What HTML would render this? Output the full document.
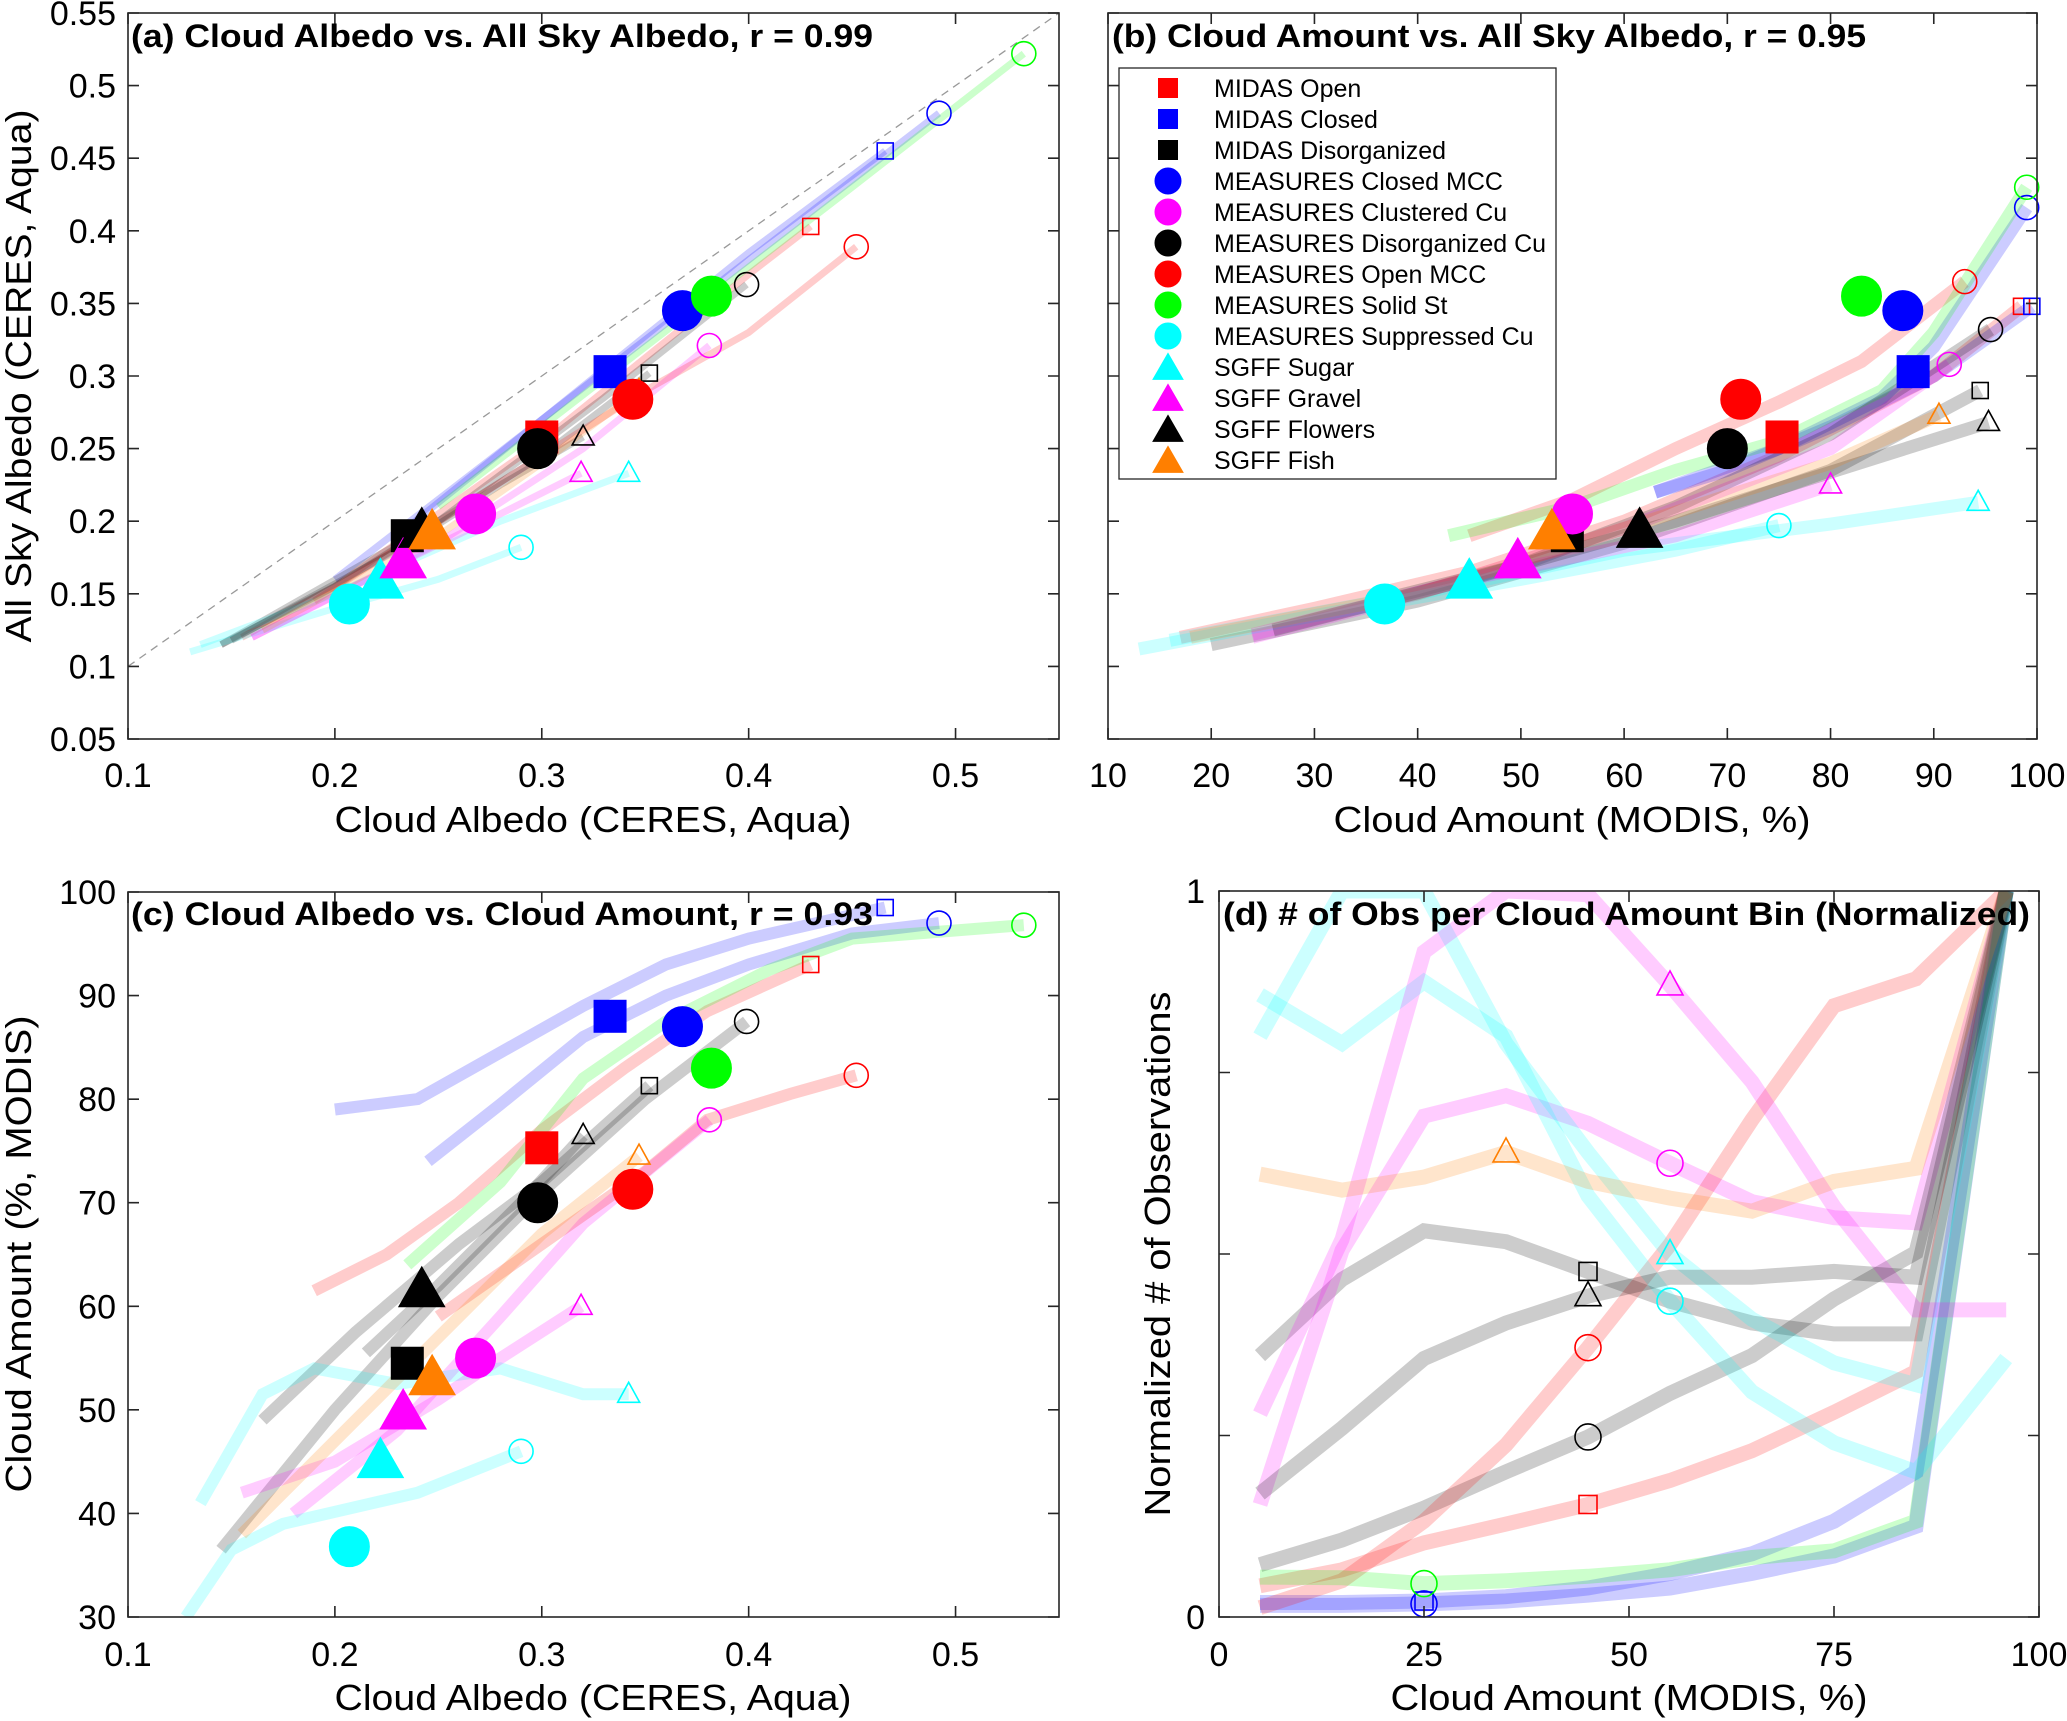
<!DOCTYPE html>
<html><head><meta charset="utf-8"><title>Cloud albedo figure</title>
<style>
html,body{margin:0;padding:0;background:#fff;}
svg{display:block;font-family:"Liberation Sans",Arial,sans-serif;}
</style></head>
<body>
<svg id="fig" xmlns="http://www.w3.org/2000/svg" width="2067" height="1721" viewBox="0 0 2067 1721">
<rect x="0" y="0" width="2067" height="1721" fill="#fff"/>
</svg>
<script>
const seriesNames = ["MIDAS Open","MIDAS Closed","MIDAS Disorganized","MEASURES Closed MCC","MEASURES Clustered Cu","MEASURES Disorganized Cu","MEASURES Open MCC","MEASURES Solid St","MEASURES Suppressed Cu","SGFF Sugar","SGFF Gravel","SGFF Flowers","SGFF Fish"];
const seriesColors = ["#ff0000","#0000ff","#000000","#0000ff","#ff00ff","#000000","#ff0000","#00ff00","#00ffff","#00ffff","#ff00ff","#000000","#ff7f00"];
const seriesShapes = ["square","square","square","circle","circle","circle","circle","circle","circle","triangle","triangle","triangle","triangle"];

const meanCloudAlbedo = [0.30,0.333,0.235,0.368,0.268,0.298,0.344,0.382,0.207,0.222,0.233,0.242,0.247];
const meanAllSkyAlbedo = [0.258,0.303,0.19,0.345,0.205,0.25,0.284,0.355,0.143,0.158,0.172,0.193,0.192];
const meanCloudAmount = [75.3,88,54.5,87,55,70,71.3,83,36.8,45,49.7,61.5,53];

const aCloudAlbedo = [
[0.155,0.2,0.3,0.4,0.43],[0.2,0.3,0.4,0.466],[0.145,0.2,0.3,0.352],[0.23,0.3,0.4,0.492],
[0.16,0.25,0.32,0.381],[0.145,0.25,0.33,0.399],[0.19,0.3,0.35,0.4,0.452],[0.25,0.35,0.45,0.533],
[0.13,0.2,0.25,0.29],[0.135,0.2,0.28,0.342],[0.16,0.23,0.28,0.319],[0.15,0.23,0.28,0.32],[0.165,0.25,0.3,0.347]];
const aAllSkyAlbedo = [
[0.12,0.155,0.255,0.37,0.403],[0.16,0.27,0.385,0.455],[0.115,0.155,0.245,0.302],[0.19,0.27,0.38,0.481],
[0.12,0.185,0.25,0.321],[0.115,0.2,0.285,0.363],[0.145,0.245,0.29,0.33,0.389],[0.21,0.32,0.43,0.522],
[0.11,0.14,0.16,0.182],[0.115,0.15,0.2,0.233],[0.12,0.17,0.205,0.233],[0.118,0.18,0.225,0.258],[0.125,0.19,0.24,0.29]];

const bCloudAmount = [
[17,30,45,60,75,90,98.5],[63,70,80,90,99.5],[20,40,60,80,94.5],[63,75,85,90,99],
[24,40,60,80,91.5],[36,50,65,80,95.5],[45,55,65,75,83,93],[43,55,65,75,85,90,99],
[13,30,50,65,75],[16,40,60,80,94.3],[24,45,65,80],[26,45,65,85,95.3],[18,40,60,80,90.5]];
const bAllSkyAlbedo = [
[0.12,0.14,0.165,0.2,0.245,0.3,0.348],[0.22,0.235,0.265,0.3,0.348],[0.115,0.145,0.185,0.235,0.29],[0.22,0.25,0.285,0.32,0.416],
[0.12,0.15,0.195,0.25,0.308],[0.145,0.17,0.21,0.26,0.332],[0.19,0.215,0.25,0.282,0.31,0.365],[0.19,0.21,0.235,0.255,0.29,0.33,0.43],
[0.112,0.135,0.16,0.18,0.197],[0.118,0.15,0.18,0.198,0.213],[0.122,0.16,0.19,0.225],[0.125,0.16,0.2,0.245,0.268],[0.12,0.15,0.195,0.24,0.273]];

const cCloudAlbedo = [
[0.19,0.225,0.26,0.3,0.34,0.38,0.43],[0.2,0.24,0.28,0.32,0.36,0.4,0.466],[0.165,0.21,0.26,0.3,0.352],[0.245,0.28,0.32,0.36,0.4,0.45,0.492],
[0.18,0.23,0.28,0.32,0.381],[0.145,0.2,0.25,0.3,0.35,0.399],[0.25,0.3,0.35,0.38,0.42,0.452],[0.235,0.28,0.32,0.36,0.41,0.45,0.533],
[0.128,0.15,0.175,0.24,0.29],[0.135,0.165,0.19,0.23,0.28,0.32,0.342],[0.155,0.2,0.25,0.28,0.319],[0.215,0.25,0.29,0.32],[0.155,0.2,0.25,0.3,0.347]];
const cCloudAmount = [
[61.5,65,70,77,83,88.5,93],[79,80,84.5,89,93,95.5,98.5],[49,57.5,66,72,81.3],[74,79.5,86,90,93,96,97],
[40,48,59,68,78],[36.5,50,61,71,80,87.5],[59,66,73,78,80.5,82.3],[64,72,82,87.5,92.5,95.5,96.8],
[30,36.5,39,42,46],[41,51.5,54,52.5,54,51.5,51.5],[42,45,51,55,60],[55.5,62,70,76.5],[38,47,57,67,74.5]];

const dBins = [5,15,25,35,45,55,65,75,85,96];
const dFraction = [
[0.043,0.065,0.102,0.128,0.155,0.188,0.229,0.282,0.338,1],
[0.02,0.02,0.022,0.028,0.04,0.06,0.087,0.132,0.2,1],
[0.36,0.465,0.532,0.517,0.476,0.435,0.405,0.39,0.39,1],
[0.016,0.016,0.018,0.022,0.03,0.04,0.06,0.084,0.125,1],
[0.155,0.505,0.69,0.718,0.68,0.625,0.572,0.55,0.543,1],
[0.072,0.106,0.15,0.2,0.248,0.308,0.36,0.438,0.502,1],
[0.013,0.05,0.132,0.237,0.371,0.513,0.685,0.842,0.879,1],
[0.055,0.054,0.046,0.05,0.056,0.065,0.082,0.091,0.132,1],
[0.857,0.79,0.875,0.8,0.58,0.435,0.31,0.24,0.2,0.356],
[0.8,1.0,1.0,0.79,0.64,0.5,0.41,0.35,0.32,1],
[0.28,0.52,0.916,1.0,0.995,0.87,0.737,0.565,0.423,0.423],
[0.17,0.26,0.356,0.405,0.442,0.468,0.468,0.476,0.468,1],
[0.61,0.588,0.606,0.64,0.6,0.577,0.559,0.6,0.618,1]];
const dMarkerBin = [4,2,4,2,5,4,4,2,5,5,5,4,3];

const NS = "http://www.w3.org/2000/svg";
const svg = document.getElementById("fig");

const PA = {px0:128,px1:1059,py0:739,py1:13,xmin:0.1,xmax:0.55,ymin:0.05,ymax:0.55,name:"panel-a"};
const PB = {px0:1108,px1:2037,py0:739,py1:13,xmin:10,xmax:100,ymin:0.05,ymax:0.55,name:"panel-b"};
const PC = {px0:128,px1:1059,py0:1617,py1:892,xmin:0.1,xmax:0.55,ymin:30,ymax:100,name:"panel-c"};
const PD = {px0:1219,px1:2039,py0:1617,py1:891,xmin:0,xmax:100,ymin:0,ymax:1,name:"panel-d"};

function sx(p,v){return p.px0+(v-p.xmin)/(p.xmax-p.xmin)*(p.px1-p.px0);}
function sy(p,v){return p.py0-(v-p.ymin)/(p.ymax-p.ymin)*(p.py0-p.py1);}
function el(tag,parent){const e=document.createElementNS(NS,tag);parent.appendChild(e);return e;}

function addText(parent,str,x,y,size,anchor,weight,target,rot){
  const t=el("text",parent);
  t.setAttribute("x",x);t.setAttribute("y",y);
  t.setAttribute("font-size",size);t.setAttribute("text-anchor",anchor);
  if(weight)t.setAttribute("font-weight",weight);
  t.setAttribute("fill","#000");
  if(rot)t.setAttribute("transform","rotate(-90 "+x+" "+y+")");
  t.textContent=str;
  if(target){t.setAttribute("textLength",target);t.setAttribute("lengthAdjust","spacingAndGlyphs");}
  return t;
}

function marker(parent,shape,cx,cy,w,h,color,filled){
  let m;
  if(shape==="square"){m=el("rect",parent);m.setAttribute("x",cx-w/2);m.setAttribute("y",cy-w/2);m.setAttribute("width",w);m.setAttribute("height",w);}
  else if(shape==="circle"){m=el("ellipse",parent);m.setAttribute("cx",cx);m.setAttribute("cy",cy);m.setAttribute("rx",w/2);m.setAttribute("ry",w/2);}
  else{m=el("polygon",parent);m.setAttribute("points",cx+","+(cy-h*0.6)+" "+(cx-w/2)+","+(cy+h*0.4)+" "+(cx+w/2)+","+(cy+h*0.4));}
  m.setAttribute("fill",filled?color:"none");
  m.setAttribute("stroke",color);
  m.setAttribute("stroke-width",filled?1:1.6);
  return m;
}

function axes(p,xt,xl,yt,yl,xlabY,ylabX,ylabRight){
  const g=el("g",svg);
  
  
  const box=el("rect",g);
  
  
  box.setAttribute("x",p.px0);box.setAttribute("y",p.py1);
  box.setAttribute("width",p.px1-p.px0);box.setAttribute("height",p.py0-p.py1);
  box.setAttribute("fill","none");box.setAttribute("stroke","#262626");box.setAttribute("stroke-width",1.6);
  xt.forEach((v,i)=>{
    const x=sx(p,v);
    const t=el("path",g);
    
    
    t.setAttribute("d","M"+x+" "+p.py0+"v-11M"+x+" "+p.py1+"v11");
    t.setAttribute("stroke","#262626");t.setAttribute("stroke-width",1.6);
    if(xl[i]!==""){const tl=addText(g,xl[i],x,xlabY,34,"middle");
      
      }
  });
  yt.forEach((v,i)=>{
    const y=sy(p,v);
    const t=el("path",g);
    
    
    t.setAttribute("d","M"+p.px0+" "+y+"h11M"+p.px1+" "+y+"h-11");
    t.setAttribute("stroke","#262626");t.setAttribute("stroke-width",1.6);
    if(yl && yl[i]!==""){const tl=addText(g,yl[i],ylabRight,y+12,34,"end");
      
      }
  });
  return g;
}

function clip(p){
  const cp=el("clipPath",svg);cp.setAttribute("id","clip-"+p.name);
  const r=el("rect",cp);r.setAttribute("x",p.px0);r.setAttribute("y",p.py1);
  r.setAttribute("width",p.px1-p.px0);r.setAttribute("height",p.py0-p.py1);
}

function bands(p,xs,ys,width){
  const g=el("g",svg);
  
  
  g.setAttribute("clip-path","url(#clip-"+p.name+")");
  xs.forEach((arr,i)=>{
    const pts=arr.map((v,j)=>sx(p,v).toFixed(1)+","+sy(p,ys[i][j]).toFixed(1)).join(" ");
    const l=el("polyline",g);
    
    
    l.setAttribute("points",pts);
    l.setAttribute("fill","none");l.setAttribute("stroke",seriesColors[i]);
    l.setAttribute("stroke-opacity",0.2);l.setAttribute("stroke-width",width);
    l.setAttribute("stroke-linejoin","miter");
  });
  return g;
}

function endMarkers(p,xs,ys){
  const g=el("g",svg);
  
  
  xs.forEach((arr,i)=>{
    const n=arr.length-1;
    const m=marker(g,seriesShapes[i],sx(p,arr[n]),sy(p,ys[i][n]),seriesShapes[i]==="square"?16:(seriesShapes[i]==="circle"?24:22),20,seriesColors[i],false);
    
    
  });
}

function meanMarkers(p,mx,my){
  const g=el("g",svg);
  
  
  mx.forEach((v,i)=>{
    const s=seriesShapes[i];
    const m=marker(g,s,sx(p,v),sy(p,my[i]),s==="square"?32:(s==="circle"?40:46),40,seriesColors[i],true);
    
    
  });
}

[PA,PB,PC,PD].forEach(clip);

const diag=el("line",svg);


diag.setAttribute("x1",sx(PA,0.1));diag.setAttribute("y1",sy(PA,0.1));
diag.setAttribute("x2",sx(PA,0.55));diag.setAttribute("y2",sy(PA,0.55));
diag.setAttribute("stroke","#999");diag.setAttribute("stroke-width",1.3);diag.setAttribute("stroke-dasharray","8,6");

bands(PA,aCloudAlbedo,aAllSkyAlbedo,7);
endMarkers(PA,aCloudAlbedo,aAllSkyAlbedo);
meanMarkers(PA,meanCloudAlbedo,meanAllSkyAlbedo);
bands(PB,bCloudAmount,bAllSkyAlbedo,13);
endMarkers(PB,bCloudAmount,bAllSkyAlbedo);
meanMarkers(PB,meanCloudAmount,meanAllSkyAlbedo);
bands(PC,cCloudAlbedo,cCloudAmount,12);
endMarkers(PC,cCloudAlbedo,cCloudAmount);
meanMarkers(PC,meanCloudAlbedo,meanCloudAmount);
const dX = dFraction.map(()=>dBins);
bands(PD,dX,dFraction,15);
const gd=el("g",svg);


dFraction.forEach((arr,i)=>{
  const b=dMarkerBin[i];
  const s=seriesShapes[i];
  const m=marker(gd,s,sx(PD,dBins[b]),sy(PD,arr[b]),s==="square"?18:(s==="circle"?26:26),24,seriesColors[i],false);
  
  
});

const albTicks=[0.1,0.2,0.3,0.4,0.5];
const albLabels=["0.1","0.2","0.3","0.4","0.5"];
const asaTicks=[0.05,0.1,0.15,0.2,0.25,0.3,0.35,0.4,0.45,0.5,0.55];
const asaLabels=["0.05","0.1","0.15","0.2","0.25","0.3","0.35","0.4","0.45","0.5","0.55"];
axes(PA,albTicks,albLabels,asaTicks,asaLabels,787,0,116);
axes(PB,[10,20,30,40,50,60,70,80,90,100],["10","20","30","40","50","60","70","80","90","100"],asaTicks,null,787,0,0);
axes(PC,albTicks,albLabels,[30,40,50,60,70,80,90,100],["30","40","50","60","70","80","90","100"],1666,0,116);
axes(PD,[0,25,50,75,100],["0","25","50","75","100"],[0,0.25,0.5,0.75,1],["0","","","","1"],1666,0,1205);

const titles=[["(a) Cloud Albedo vs. All Sky Albedo, r = 0.99",131,47,742,"title-a"],
["(b) Cloud Amount vs. All Sky Albedo, r = 0.95",1112,47,754,"title-b"],
["(c) Cloud Albedo vs. Cloud Amount, r = 0.93",131,925,742,"title-c"],
["(d) # of Obs per Cloud Amount Bin (Normalized)",1223,925,807,"title-d"]];
titles.forEach(t=>{const tt=addText(svg,t[0],t[1],t[2],32,"start","bold",t[3]);
  
  });

const labs=[["Cloud Albedo (CERES, Aqua)",593,832,517,false,"x-axis-title-a"],
["Cloud Amount (MODIS, %)",1572,832,477,false,"x-axis-title-b"],
["Cloud Albedo (CERES, Aqua)",593,1710,517,false,"x-axis-title-c"],
["Cloud Amount (MODIS, %)",1629,1710,477,false,"x-axis-title-d"],
["All Sky Albedo (CERES, Aqua)",31,376,533,true,"y-axis-title-a"],
["Cloud Amount (%, MODIS)",31,1254,477,true,"y-axis-title-c"],
["Normalized # of Observations",1170,1254,525,true,"y-axis-title-d"]];
labs.forEach(l=>{const tt=addText(svg,l[0],l[1],l[2],36,"middle",null,l[3],l[4]);
  
  });

const lg=el("g",svg);


const lb=el("rect",lg);


lb.setAttribute("x",1119);lb.setAttribute("y",68);lb.setAttribute("width",437);lb.setAttribute("height",411);
lb.setAttribute("fill","#fff");lb.setAttribute("stroke","#262626");lb.setAttribute("stroke-width",1.3);
seriesNames.forEach((n,i)=>{
  const y=88+i*31;
  const s=seriesShapes[i];
  const m=marker(lg,s,1168,y+(s==="triangle"?2:0),s==="square"?19:(s==="circle"?26:30),26,seriesColors[i],true);
  
  
  const t=addText(lg,n,1214,y+9,25,"start");
  
  
});
</script>
</body></html>
